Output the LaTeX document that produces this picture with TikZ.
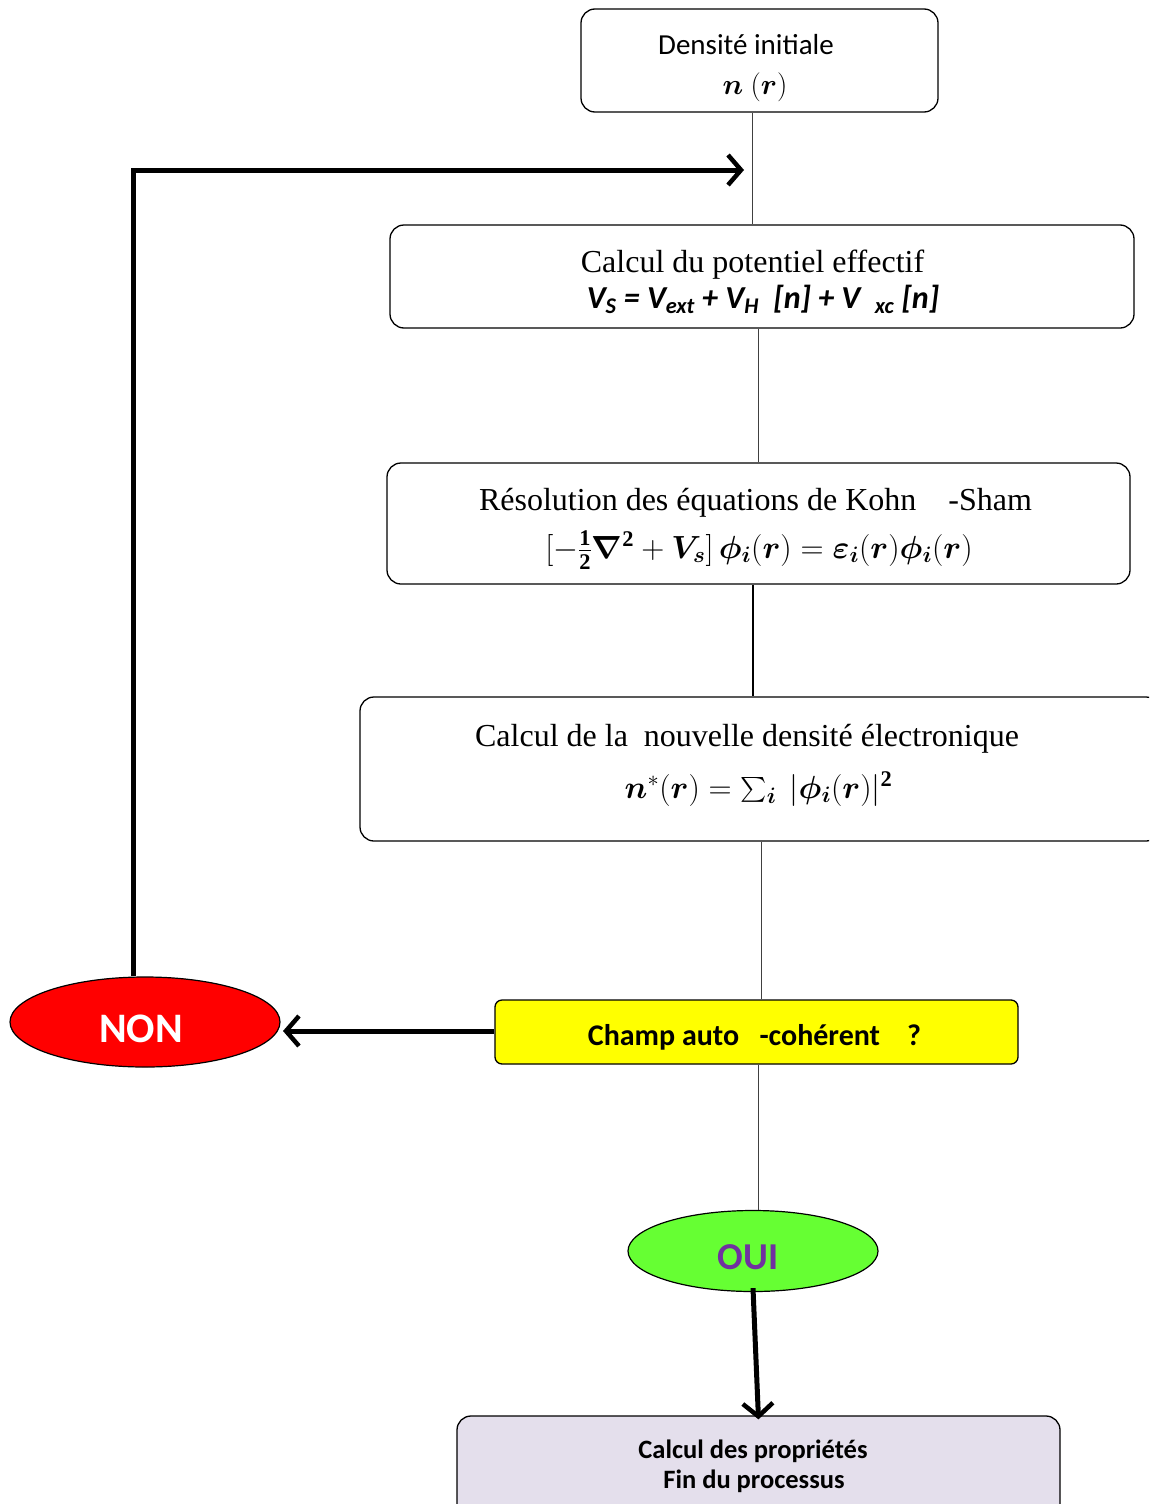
\RequirePackage{fix-cm}
\documentclass[tikz,border=0pt]{standalone}
\usepackage{amsmath,bm}
\usepackage{fontspec}
\setmainfont{Liberation Serif}
\newfontfamily\calibri{Carlito}
\usetikzlibrary{shapes.geometric,arrows.meta}
\definecolor{nonred}{HTML}{FF0000}
\definecolor{qyellow}{HTML}{FFFF00}
\definecolor{ouigreen}{HTML}{66FF33}
\definecolor{ouipurple}{HTML}{7030A0}
\definecolor{finlav}{HTML}{E4DFEC}
\begin{document}
\begin{tikzpicture}[x=1pt,y=-1pt,
  box/.style={draw, rounded corners=14pt, line width=1.3pt, inner sep=0pt},
  txt/.style={anchor=base, inner sep=0pt},
  serif/.style={txt, font=\fontsize{32}{36}\selectfont},
  thinline/.style={draw=black!75, line width=0.9pt},
  bigarrow/.style={line width=5pt, line join=miter, -{Straight Barb[length=13pt,width=30pt,line width=4.5pt]}},
  oval/.style={draw, ellipse, line width=1.2pt, inner sep=0pt}]
\clip (0,0) rectangle (1149,1504);
\path[use as bounding box] (0,0) rectangle (1149,1504);

% box shapes
\node[box, minimum width=357pt, minimum height=103pt] (dens) at (759.5,60.5) {};
\node[box, minimum width=744pt, minimum height=103pt] (pot) at (762,276.5) {};
\node[box, minimum width=743pt, minimum height=121pt] (kohn) at (758.5,523.5) {};
\node[box, minimum width=800pt, minimum height=144pt] (dens2) at (760,769) {};
\node[box, rounded corners=7pt, fill=qyellow, minimum width=523pt, minimum height=64pt] (scf) at (756.5,1032) {};
\node[oval, fill=nonred, minimum width=270pt, minimum height=90pt] (non) at (145,1022) {};
\node[oval, fill=ouigreen, minimum width=250pt, minimum height=81pt] (oui) at (753,1251) {};
\node[box, fill=finlav, minimum width=603pt, minimum height=108pt] (fin) at (758.5,1470) {};

% texts
\node[txt, font=\fontsize{29}{34}\selectfont\calibri] (densA) at (746,55) {Densité initiale};
\node[txt, font=\fontsize{29}{34}\selectfont] (densB) at (755,95) {$\bm{n}\ (\bm{r})$};

\node[serif] (potA) at (752.5,272.5) {Calcul du potentiel effectif};
\node[txt, font=\fontsize{32}{36}\selectfont\calibri\bfseries\itshape] (potB) at (763,308.5)
  {V\textsubscript{S} = V\textsubscript{ext} + V\textsubscript{H}\ \ [n] + V\ \ \textsubscript{xc} [n]};

\node[serif] (kohnA) at (755.5,510.5) {Résolution des équations de Kohn\quad-Sham};
\node[serif] (kohnB) at (759,558)
  {$[-\frac{\mathbf{1}}{\mathbf{2}}\bm{\nabla}^{\mathbf{2}}+\bm{V}_{\bm{s}}]\,\bm{\phi}_{\bm{i}}(\bm{r})=\bm{\varepsilon}_{\bm{i}}(\bm{r})\bm{\phi}_{\bm{i}}(\bm{r})$};

\node[serif] (dens2A) at (747,746.5) {Calcul de la\ \ nouvelle densité électronique};
\node[serif] (dens2B) at (758.5,798)
  {$\bm{n}^{*}(\bm{r})=\sum\nolimits_{\bm{i}}\ |\bm{\phi}_{\bm{i}}(\bm{r})|^{\mathbf{2}}$};

\node[txt, font=\fontsize{30}{34}\selectfont\calibri\bfseries] (scfT) at (754.5,1045)
  {Champ auto\ \ \ -cohérent\ \ \ \ ?};
\node[txt, text=white, font=\fontsize{42}{46}\selectfont\calibri\bfseries] (nonT) at (141,1042) {NON};
\node[txt, text=ouipurple, font=\fontsize{38}{42}\selectfont\calibri\bfseries] (ouiT) at (748,1269) {OUI};
\node[txt, font=\fontsize{26.5}{30}\selectfont\calibri\bfseries] (finA) at (753,1458) {Calcul des propriétés};
\node[txt, font=\fontsize{26.5}{30}\selectfont\calibri\bfseries] (finB) at (754,1488) {Fin du processus};

% connectors
\coordinate (join) at (752,170);
\draw[thinline] (dens.south -| join) -- (pot.north -| join);
\draw[thinline] (pot.south -| 758,0) -- (kohn.north -| 758,0);
\draw[line width=1.8pt] (kohn.south -| 753,0) -- (dens2.north -| 753,0);
\draw[thinline] (dens2.south -| 761,0) -- (scf.north -| 761,0);
\draw[thinline] (scf.south -| 758,0) -- (oui.north -| 758,0);
\draw[bigarrow] (scf.west |- 0,1031) -- (283,1031);
\draw[bigarrow] (non.north -| 133,0) |- ([xshift=-8pt]join);
\draw[bigarrow] ([yshift=4pt]oui.south) -- ([yshift=-4pt]fin.north);
\end{tikzpicture}
\end{document}
